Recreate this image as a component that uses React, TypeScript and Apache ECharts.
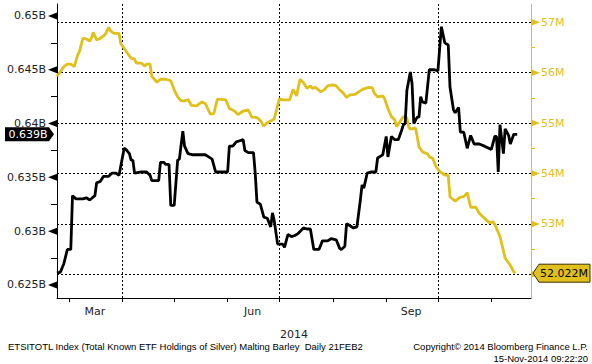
import React, { useEffect, useRef } from "react";
import * as echarts from "echarts";

// x axis: days since 21-Feb-2014
const X_MIN = 1;
const X_MAX = 276;
const monthTickDays = [8, 39, 69, 100, 130, 161, 192, 222, 253];
const quarterDays = [39, 130, 222];
const monthLabelDays = [23, 114.5, 206.5];
const monthLabelNames = ["Mar", "Jun", "Sep"];
const yearLabel = "2014";

const leftMin = 0.62379;
const leftMax = 0.65111;
const leftTicks = [0.625, 0.63, 0.635, 0.64, 0.645, 0.65];
const leftMinor = [0.6275, 0.6325, 0.6375, 0.6425, 0.6475];
const rightMin = 51.53;
const rightMax = 57.363;
const rightTicks = [52, 53, 54, 55, 56, 57];
const rightMinor = [52.5, 53.5, 54.5, 55.5, 56.5];

const blackDays = [1,3,5,7,9,10,12,16,18,20,23,24,26,28,31,33,35,37,39,40,41,43,44,45,46,50,53,55,56,60,61,63,64,66,67,69,71,72,74,75,77,80,87,89,91,93,97,100,101,103,105,107,109,110,112,115,116,117,119,121,123,125,126,127,129,132,133,135,137,139,141,144,146,148,150,153,155,158,160,163,165,166,168,169,171,173,175,177,178,179,181,183,186,187,189,190,192,193,195,197,199,201,202,203,204,206,207,208,209,210,211,212,213,215,217,220,222,224,226,228,229,231,232,234,235,237,239,241,243,246,249,253,255,256,257,258,260,261,263,264,266,268];
const blackVals = [0.6261,0.6262,0.6270,0.6283,0.6283,0.6333,0.6330,0.6330,0.6331,0.6329,0.6333,0.6345,0.6346,0.6351,0.6351,0.6354,0.6354,0.6352,0.6369,0.6377,0.6376,0.6372,0.6366,0.6366,0.6354,0.6355,0.6355,0.6352,0.6347,0.6347,0.6364,0.6364,0.6362,0.6362,0.6324,0.6324,0.6366,0.6367,0.6393,0.6379,0.6372,0.6371,0.6371,0.6369,0.6367,0.6355,0.6355,0.6355,0.6379,0.6379,0.6383,0.6384,0.6385,0.6375,0.6373,0.6373,0.6354,0.6327,0.6325,0.6313,0.6312,0.6304,0.6317,0.6310,0.6288,0.6288,0.6285,0.6297,0.6295,0.6296,0.6298,0.6303,0.6302,0.6302,0.6283,0.6283,0.6291,0.6291,0.6293,0.6292,0.6284,0.6283,0.6286,0.6307,0.6305,0.6303,0.6304,0.6329,0.6343,0.6340,0.6354,0.6355,0.6355,0.6368,0.6370,0.6371,0.6388,0.6369,0.6388,0.6385,0.6385,0.6394,0.6399,0.6400,0.6431,0.6448,0.6437,0.6400,0.6403,0.6406,0.6406,0.6425,0.6420,0.6419,0.6450,0.6450,0.6449,0.6490,0.6475,0.6473,0.6434,0.6413,0.6410,0.6415,0.6392,0.6392,0.6377,0.6389,0.6381,0.6381,0.6379,0.6376,0.6388,0.6388,0.6355,0.6399,0.6372,0.6395,0.6389,0.6381,0.6390,0.6390];

const yellowDays = [1,3,5,7,9,11,13,14,16,18,20,21,22,24,26,28,29,31,32,34,37,38,40,42,44,46,47,50,52,53,55,56,59,61,64,67,69,71,73,75,77,79,82,85,87,90,92,94,96,99,101,104,106,109,112,114,117,119,121,123,125,127,130,132,136,138,140,142,144,146,148,149,151,154,156,158,161,163,165,167,169,171,174,176,179,182,184,185,187,190,191,193,195,197,198,200,202,204,205,206,209,210,211,213,216,217,219,221,223,226,228,229,232,235,237,239,241,244,246,249,252,254,255,258,261,264,266,267];
const yellowVals = [55.93,56.02,56.12,56.17,56.17,56.12,56.35,56.42,56.68,56.67,56.63,56.69,56.80,56.65,56.68,56.73,56.76,56.90,56.83,56.78,56.78,56.58,56.48,56.38,56.29,56.27,56.19,56.19,56.13,56.17,56.17,55.93,55.81,55.87,55.87,55.84,55.66,55.52,55.44,55.44,55.47,55.35,55.34,55.42,55.39,55.18,55.19,55.47,55.47,55.46,55.29,55.24,55.17,55.24,55.26,55.12,55.11,55.05,54.94,55.01,55.04,55.08,55.48,55.46,55.46,55.67,55.54,55.87,55.80,55.69,55.74,55.69,55.71,55.62,55.66,55.74,55.76,55.74,55.66,55.60,55.51,55.56,55.57,55.62,55.68,55.71,55.70,55.60,55.52,55.54,55.49,55.29,55.13,55.06,54.93,55.03,55.13,55.10,54.93,54.88,54.90,54.73,54.53,54.43,54.39,54.33,54.30,54.13,54.04,53.97,53.97,53.54,53.45,53.53,53.54,53.62,53.33,53.33,53.21,53.11,53.02,53.04,52.99,52.75,52.32,52.18,52.05,52.022];

const lastLeft = 0.639;
const lastLeftText = "0.639B";
const lastRight = 52.022;
const lastRightText = "52.022M";

const footerLeft = "ETSITOTL Index (Total Known ETF Holdings of Silver) Malting Barley  Daily 21FEB2";
const footerRight1 = "Copyright\u00A9 2014 Bloomberg Finance L.P.";
const footerRight2 = "15-Nov-2014 09:22:20";

const YELLOW = "#e2c01c";
const INK = "#1e1e1e";
const FONT = "DejaVu Sans";
const SMALLFONT = "Liberation Sans";

export default function App() {
  const ref = useRef<HTMLDivElement>(null);
  useEffect(() => {
    if (!ref.current) return;
    const chart = echarts.init(ref.current, null, { renderer: "svg" });
    const option: any = {
      animation: false,
      backgroundColor: "#ffffff",
      grid: { left: 57, right: 61, top: 4, bottom: 66, containLabel: false },
      xAxis: {
        type: "value",
        min: X_MIN,
        max: X_MAX,
        name: yearLabel,
        nameLocation: "middle",
        nameGap: 31,
        nameTextStyle: { fontSize: 11, color: INK, fontFamily: FONT },
        axisLine: { show: true, onZero: false, lineStyle: { color: "#000", width: 1 } },
        axisTick: { show: true, length: 4, customValues: monthTickDays, lineStyle: { color: "#000" } },
        axisLabel: {
          customValues: monthLabelDays,
          margin: 8,
          fontSize: 11,
          fontFamily: FONT,
          color: INK,
          formatter: (v: number) => {
            const i = monthLabelDays.indexOf(v);
            return i >= 0 ? monthLabelNames[i] : "";
          },
        },
        splitLine: { show: false },
      },
      yAxis: [
        {
          type: "value",
          position: "left",
          min: leftMin,
          max: leftMax,
          axisLine: { show: true, onZero: false, lineStyle: { color: "#000", width: 1 } },
          axisTick: { show: true, length: 6, customValues: leftMinor, lineStyle: { color: "#000" } },
          axisLabel: {
            customValues: leftTicks,
            margin: 11,
            fontSize: 11,
            fontFamily: FONT,
            color: INK,
            formatter: (v: number) => `${+v.toFixed(4)}B`,
          },
          splitLine: { show: false },
        },
        {
          type: "value",
          position: "right",
          min: rightMin,
          max: rightMax,
          axisLine: { show: true, onZero: false, lineStyle: { color: YELLOW, width: 1 } },
          axisTick: { show: true, length: 4, customValues: rightMinor, lineStyle: { color: YELLOW } },
          axisLabel: {
            customValues: rightTicks,
            margin: 10,
            fontSize: 11,
            fontFamily: FONT,
            color: YELLOW,
            formatter: (v: number) => `${v}M`,
          },
          splitLine: { show: false },
        },
      ],
      series: [
        {
          type: "line",
          yAxisIndex: 1,
          data: yellowDays.map((d, i) => [d, yellowVals[i]]),
          showSymbol: false,
          lineStyle: { color: YELLOW, width: 2.8 },
          itemStyle: { color: YELLOW },
          z: 3,
          markLine: {
            silent: true,
            symbol: ["none", "none"],
            z: 1,
            label: { show: false },
            lineStyle: { type: [2, 2], color: "#000", width: 1 },
            data: rightTicks.map((v) => ({ yAxis: v })),
          },
        },
        {
          type: "line",
          yAxisIndex: 0,
          data: blackDays.map((d, i) => [d, blackVals[i]]),
          showSymbol: false,
          lineStyle: { color: "#000", width: 2.8 },
          itemStyle: { color: "#000" },
          z: 4,
          markLine: {
            silent: true,
            symbol: ["none", "none"],
            z: 1,
            label: { show: false },
            lineStyle: { type: [2, 2], color: "#000", width: 1 },
            data: quarterDays.map((d) => ({ xAxis: d })),
          },
        },
      ],
    };
    chart.setOption(option);

    const gx0 = chart.convertToPixel({ xAxisIndex: 0 }, X_MIN) as number;
    const gx1 = chart.convertToPixel({ xAxisIndex: 0 }, X_MAX) as number;
    const pl = (v: number) => chart.convertToPixel({ yAxisIndex: 0 }, v) as number;
    const pr = (v: number) => chart.convertToPixel({ yAxisIndex: 1 }, v) as number;

    const graphics: any[] = [];
    leftTicks.forEach((v) => {
      const y = pl(v);
      graphics.push({
        type: "polygon",
        z: 50,
        shape: { points: [[gx0, y - 3.5], [gx0, y + 3.5], [gx0 - 9, y]] },
        style: { fill: "#000" },
      });
    });
    rightTicks.forEach((v) => {
      const y = pr(v);
      graphics.push({
        type: "polygon",
        z: 50,
        shape: { points: [[gx1, y - 3.5], [gx1, y + 3.5], [gx1 + 9, y]] },
        style: { fill: YELLOW },
      });
    });
    const yl = pl(lastLeft);
    graphics.push({
      type: "polygon",
      z: 60,
      shape: { points: [[gx0 - 52, yl - 7], [gx0 - 8, yl - 7], [gx0 - 3, yl], [gx0 - 8, yl + 7], [gx0 - 52, yl + 7]] },
      style: { fill: "#000" },
    });
    graphics.push({
      type: "text",
      z: 61,
      x: gx0 - 29,
      y: yl,
      style: { text: lastLeftText, fill: "#fff", fontSize: 11, fontFamily: FONT, align: "center", verticalAlign: "middle" },
    });
    const yr = pr(lastRight);
    graphics.push({
      type: "polygon",
      z: 60,
      shape: { points: [[gx1 + 2, yr], [gx1 + 8, yr - 9], [gx1 + 59, yr - 9], [gx1 + 59, yr + 9], [gx1 + 8, yr + 9]] },
      style: { fill: YELLOW, stroke: "#3a3000", lineWidth: 1 },
    });
    graphics.push({
      type: "text",
      z: 61,
      x: gx1 + 33,
      y: yr,
      style: { text: lastRightText, fill: "#000", fontSize: 11, fontFamily: FONT, align: "center", verticalAlign: "middle" },
    });
    graphics.push({
      type: "text",
      z: 61,
      x: 8,
      y: 346.5,
      style: { text: footerLeft, fill: "#000", fontSize: 9.5, fontFamily: SMALLFONT, align: "left", verticalAlign: "middle" },
    });
    graphics.push({
      type: "text",
      z: 61,
      x: 588,
      y: 346.5,
      style: { text: footerRight1, fill: "#000", fontSize: 9.5, fontFamily: SMALLFONT, align: "right", verticalAlign: "middle" },
    });
    graphics.push({
      type: "text",
      z: 61,
      x: 588,
      y: 358.5,
      style: { text: footerRight2, fill: "#000", fontSize: 9.5, fontFamily: SMALLFONT, align: "right", verticalAlign: "middle" },
    });
    chart.setOption({ graphic: graphics });

    return () => chart.dispose();
  }, []);
  return (
    <div
      ref={ref}
      style={{ position: "fixed", left: 0, top: 0, width: 592, height: 364, background: "#fff" }}
    />
  );
}
